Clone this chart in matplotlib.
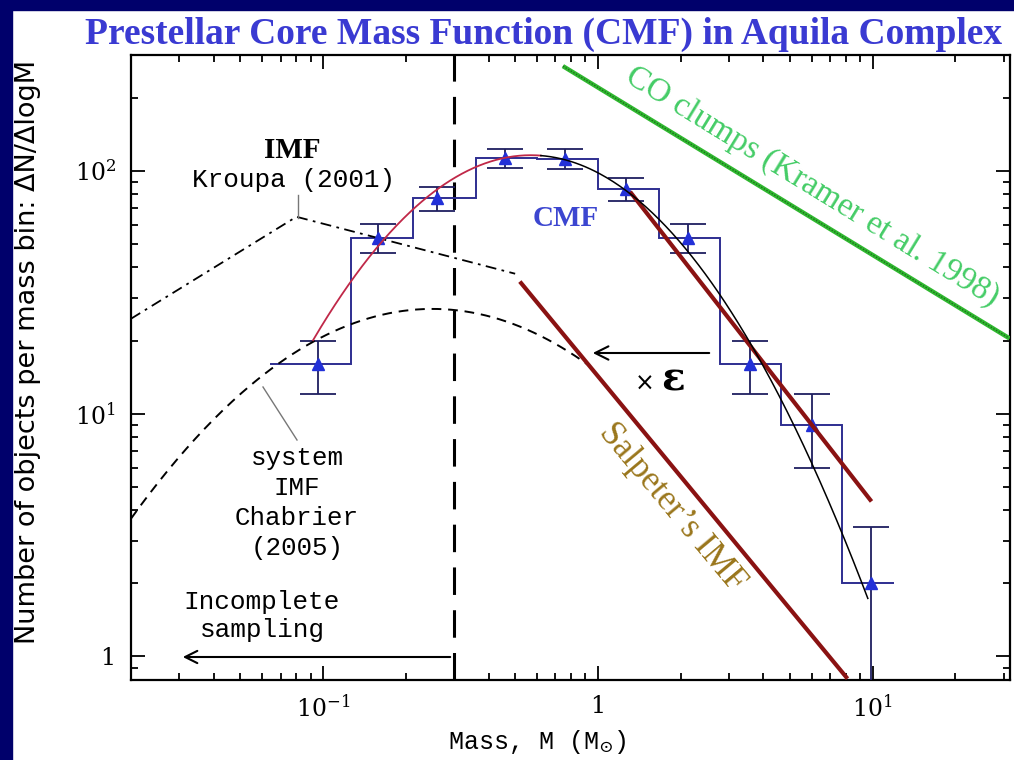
import matplotlib
matplotlib.use("Agg")
import numpy as np
import matplotlib.pyplot as plt
from matplotlib.patches import Rectangle

# ---- binned prestellar core mass function (dN/dlogM) ----
bin_mass = [0.096, 0.158, 0.26, 0.459, 0.759, 1.27, 2.12, 3.57, 6.0, 9.9]
bin_count = [16, 53, 77, 113, 112, 84, 53, 16, 9, 2]
bin_err = [4.0, 7.3, 8.8, 10.6, 10.5, 9.2, 7.3, 4.0, 3.0, 1.4]
bin_edges = [0.064, 0.126, 0.212, 0.359, 0.599, 1.0, 1.67, 2.78, 4.64, 7.74, 12.0]

# lognormal fit to the CMF (peak mass, peak value, width in dex)
fit_peak_mass = 0.57
fit_peak_value = 116.0
fit_sigma = 0.423
fit_red_range = [0.092, 0.62]
fit_black_range = [0.62, 9.6]

# Kroupa (2001) IMF, broken power law vertices
kroupa_mass = [0.02, 0.08, 0.5]
kroupa_value = [24.6, 64.7, 37.7]

# Chabrier (2005) system IMF, lognormal part
chab_peak_mass = 0.25
chab_peak_value = 27.0
chab_sigma = 0.55
chab_range = [0.02, 0.93]

# Salpeter-slope power laws (end points)
salp_high_mass = [1.31, 9.9]
salp_high_value = [82.0, 4.35]
salp_low_mass = [0.52, 8.1]
salp_low_value = [35.0, 0.81]

# CO clump mass spectrum (Kramer et al. 1998)
co_mass = [0.746, 31.5]
co_value = [270.0, 20.4]

completeness_mass = 0.3

NAVY = "#00006b"
plt.rcParams["mathtext.fontset"] = "dejavuserif"

W, H = 1014, 760
fig = plt.figure(figsize=(W / 100, H / 100), dpi=100, facecolor="white")
fig.patches.append(Rectangle((0, 0), 12 / W, 1, transform=fig.transFigure,
                             color=NAVY, zorder=0))
fig.patches.append(Rectangle((0, 1 - 10 / H), 1, 10 / H, transform=fig.transFigure,
                             color=NAVY, zorder=0))

ax = fig.add_axes([131 / W, 80 / H, 879 / W, 625 / H])
ax.set_xscale("log")
ax.set_yscale("log")
ax.set_xlim(0.02, 31.6)
ax.set_ylim(0.8, 300)

def px(x, y):
    """figure fraction from pixel coordinates (origin top-left)"""
    return x / W, 1 - y / H

# completeness limit
ax.axvline(completeness_mass, color="black", lw=2.2, ls=(0, (9, 5)), zorder=2)

# histogram and points
ax.stairs(bin_count, bin_edges, baseline=None, color="#2e2e90", lw=1.4, zorder=3)
ax.errorbar(bin_mass, bin_count, yerr=bin_err, fmt="none", ecolor="#1f1f60",
            elinewidth=1.3, capsize=13, capthick=1.3, zorder=4)
ax.plot(bin_mass, bin_count, ls="none", marker="^", ms=9, color="#2230d8",
        markeredgecolor="#2230d8", zorder=5)

# lognormal fit
def lognormal(m, mc, peak, sig):
    return peak * np.exp(-(np.log10(m) - np.log10(mc)) ** 2 / (2 * sig ** 2))

m_red = np.logspace(np.log10(fit_red_range[0]), np.log10(fit_red_range[1]), 200)
m_blk = np.logspace(np.log10(fit_black_range[0]), np.log10(fit_black_range[1]), 200)
ax.plot(m_red, lognormal(m_red, fit_peak_mass, fit_peak_value, fit_sigma),
        color="#c02848", lw=1.3, zorder=6)
ax.plot(m_blk, lognormal(m_blk, fit_peak_mass, fit_peak_value, fit_sigma),
        color="black", lw=1.1, zorder=6)

# Salpeter slopes
ax.plot(salp_high_mass, salp_high_value, color="#8a1212", lw=3.0,
        solid_capstyle="butt", zorder=5)
ax.plot(salp_low_mass, salp_low_value, color="#8a1212", lw=3.0,
        solid_capstyle="butt", zorder=5)

# Kroupa IMF
ax.plot(kroupa_mass, kroupa_value, color="black", lw=1.3,
        ls=(0, (6, 3, 1.5, 3)), zorder=4)

# Chabrier system IMF
m_ch = np.logspace(np.log10(chab_range[0]), np.log10(chab_range[1]), 200)
ax.plot(m_ch, lognormal(m_ch, chab_peak_mass, chab_peak_value, chab_sigma),
        color="black", lw=1.4, ls=(0, (5, 3.5)), zorder=4)

# CO clumps
ax.plot(co_mass, co_value, color="#2fb82f", lw=3.2, solid_capstyle="butt", zorder=3)
ax.plot(co_mass, co_value, color="#1d6e1d", lw=1.0, ls=(0, (1, 1.2)), zorder=3)

# ticks and frame
ax.set_xticks([0.1, 1, 10], labels=[r"$10^{-1}$", "1", r"$10^{1}$"])
ax.set_yticks([1, 10, 100], labels=["1", r"$10^{1}$", r"$10^{2}$"])
ax.tick_params(which="both", direction="in", top=True, right=True,
               width=1.3, colors="black", labelsize=17)
ax.tick_params(which="major", length=10)
ax.tick_params(which="minor", length=5)
ax.tick_params(axis="x", which="major", pad=11)
ax.tick_params(axis="y", which="major", pad=11)
for lab in ax.get_xticklabels() + ax.get_yticklabels():
    lab.set_fontfamily("DejaVu Serif")
for sp in ax.spines.values():
    sp.set_linewidth(1.6)

# axis labels
fig.text(*px(28, 352), "Number of objects per mass bin: \u0394N/\u0394logM",
         rotation=90, ha="center", va="center", fontsize=19.5,
         family="DejaVu Sans", color="black")
fig.text(*px(537, 742), r"Mass, M (M$_{\odot}$)", ha="center", va="center",
         fontsize=18, family="Liberation Mono", color="black")

# title
fig.text(*px(544, 34), "Prestellar Core Mass Function (CMF) in Aquila Complex",
         ha="center", va="center", fontsize=27, fontweight="bold",
         family="Liberation Serif", color="#3a3ad2")

# annotations
mono = dict(family="Liberation Mono", color="black", ha="center", va="center")
fig.text(*px(292, 150), "IMF", fontsize=21, fontweight="bold",
         family="Liberation Serif", ha="center", va="center", color="black")
fig.text(*px(294, 180), "Kroupa (2001)", fontsize=18.8, **mono)
fig.add_artist(plt.Line2D([298 / W, 298 / W], [1 - 195 / H, 1 - 218 / H],
                          color="#777777", lw=1.0))
fig.add_artist(plt.Line2D([263 / W, 297 / W], [1 - 387 / H, 1 - 440 / H],
                          color="#777777", lw=1.0))
for i, t in enumerate(["system", "IMF", "Chabrier", "(2005)"]):
    fig.text(*px(297, 458 + 30 * i), t, fontsize=18.6, **mono)
fig.text(*px(262, 602), "Incomplete", fontsize=18.8, **mono)
fig.text(*px(262, 630), "sampling", fontsize=18.8, **mono)

ax.annotate("", xy=px(180, 657), xycoords="figure fraction",
            xytext=px(453, 657), textcoords="figure fraction",
            arrowprops=dict(arrowstyle="->", color="black", lw=1.5,
                            mutation_scale=22))
ax.annotate("", xy=px(590, 353), xycoords="figure fraction",
            xytext=px(712, 353), textcoords="figure fraction",
            arrowprops=dict(arrowstyle="->", color="black", lw=1.5,
                            mutation_scale=24))
fig.text(*px(645, 384), "\u00d7", fontsize=17, family="DejaVu Sans",
         ha="center", va="center", color="black")
fig.text(*px(673, 379), "\u03b5", fontsize=28, fontweight="bold",
         family="DejaVu Serif", ha="center", va="center", color="black")

fig.text(*px(566, 218), "CMF", fontsize=21, fontweight="bold",
         family="Liberation Serif", ha="center", va="center", color="#3c46d0")
fig.text(*px(812, 187), "CO clumps (Kramer et al. 1998)", fontsize=24,
         family="Liberation Serif", rotation=-31.5, rotation_mode="anchor",
         ha="center", va="center", color="#44cc66")
fig.text(*px(672, 508), "Salpeter\u2019s IMF", fontsize=25,
         family="Liberation Serif", rotation=-50, rotation_mode="anchor",
         ha="center", va="center", color="#9a761c")

fig.savefig("out.png", dpi=100, facecolor=fig.get_facecolor())
